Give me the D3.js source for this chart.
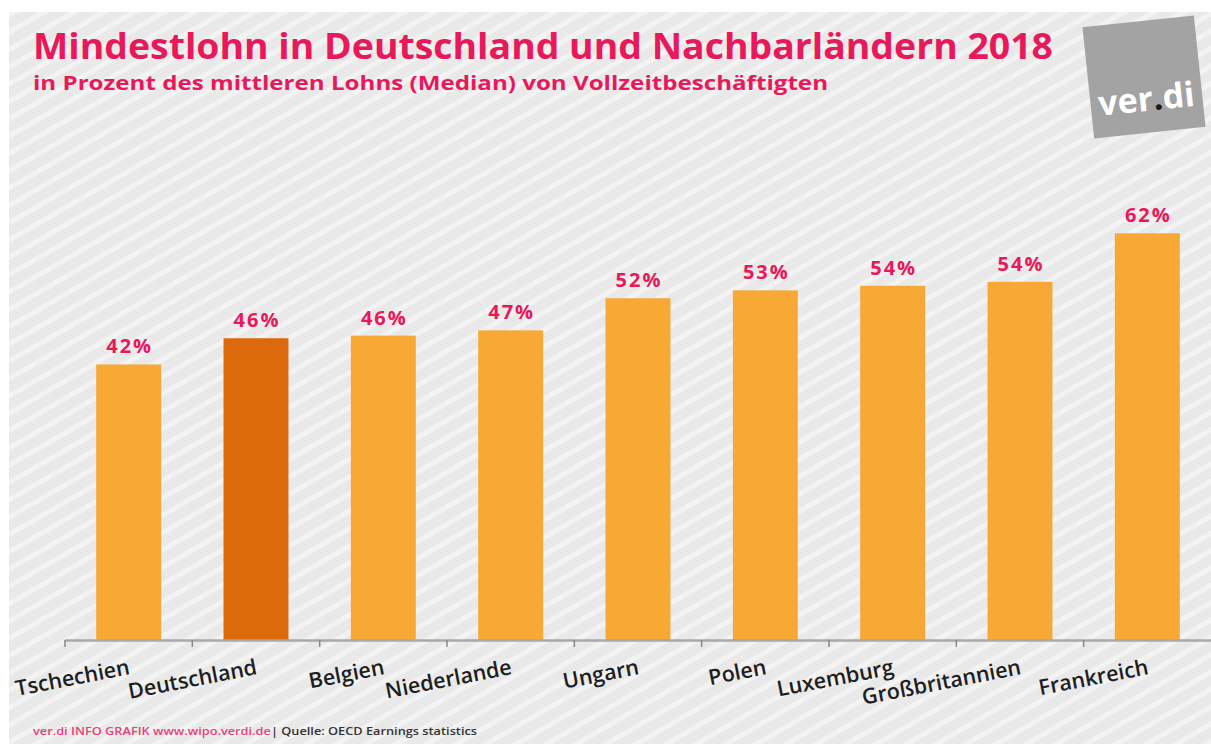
<!DOCTYPE html>
<html>
<head>
<meta charset="utf-8">
<script src="https://cdn.jsdelivr.net/npm/d3@7"></script>
<style>
	body { margin: 0; background: #fff; }
	svg { display: block; }
	.title, .subtitle, .value { font-family: 'Open Sans', sans-serif; font-weight: 700; fill: #e8195a; }
	.cat { font-family: 'Open Sans', sans-serif; font-weight: 600; fill: #1e1e1e; }
	.footer { font-family: 'Open Sans', sans-serif; font-weight: 600; }
</style>
</head>
<body>
<script>
var countries = ['Tschechien', 'Deutschland', 'Belgien', 'Niederlande', 'Ungarn', 'Polen', 'Luxemburg', 'Großbritannien', 'Frankreich'];
var shares = [42, 46, 46.4, 47.2, 52.1, 53.3, 54, 54.6, 62];
var shareLabels = ['42%', '46%', '46%', '47%', '52%', '53%', '54%', '54%', '62%'];
var highlight = 'Deutschland';

var width = 1211,
	height = 744,
	axisLeft = 65,
	baseline = 640,
	barColor = '#f8a834',
	highlightColor = '#dc690c';

var svg = d3.select('body').append('svg')
	.attr('width', width)
	.attr('height', height);

// striped grey background
var defs = svg.append('defs');
var pat = defs.append('pattern')
	.attr('id', 'stripes')
	.attr('patternUnits', 'userSpaceOnUse')
	.attr('width', 15).attr('height', 15)
	.attr('patternTransform', 'rotate(-30)');
pat.append('rect').attr('width', 15).attr('height', 15).attr('fill', '#e9e9e9');
pat.append('rect').attr('width', 15).attr('height', 5).attr('fill', '#f3f3f3');

svg.append('rect')
	.attr('x', 9).attr('y', 12)
	.attr('width', width - 9).attr('height', height - 12)
	.attr('fill', 'url(#stripes)');

// scales
var x = d3.scaleBand()
	.domain(countries)
	.range([axisLeft, width])
	.paddingInner(0.49)
	.paddingOuter(0.245);

var y = d3.scaleLinear()
	.domain([0, 70])
	.range([baseline, baseline - 6.56 * 70]);

// bars
svg.selectAll('.bar').data(countries).enter().append('rect')
	.attr('class', 'bar')
	.attr('x', function (d) { return x(d); })
	.attr('y', function (d, i) { return y(shares[i]); })
	.attr('width', x.bandwidth())
	.attr('height', function (d, i) { return baseline - y(shares[i]); })
	.attr('fill', function (d) { return d === highlight ? highlightColor : barColor; });

// value labels
svg.selectAll('.value').data(countries).enter().append('text')
	.attr('class', 'value')
	.attr('x', function (d) { return x(d) + x.bandwidth() / 2 + 1; })
	.attr('y', function (d, i) { return y(shares[i]) - 11; })
	.attr('text-anchor', 'middle')
	.attr('font-size', 20)
	.style('letter-spacing', '2px')
	.text(function (d, i) { return shareLabels[i]; });

// x axis: line plus ticks on band boundaries
var axisEl = svg.append('g').attr('class', 'axis');
axisEl.append('line')
	.attr('x1', axisLeft).attr('x2', width)
	.attr('y1', baseline + 0.5).attr('y2', baseline + 0.5)
	.attr('stroke', '#a8a8a8').attr('stroke-width', 2.5);
axisEl.selectAll('.tick').data(d3.range(countries.length)).enter().append('line')
	.attr('class', 'tick')
	.attr('x1', function (i) { return axisLeft + i * x.step(); })
	.attr('x2', function (i) { return axisLeft + i * x.step(); })
	.attr('y1', baseline).attr('y2', baseline + 7)
	.attr('stroke', '#888').attr('stroke-width', 1.5);

// rotated category labels, end anchored at bar centre
svg.selectAll('.cat').data(countries).enter().append('text')
	.attr('class', 'cat')
	.attr('font-size', 21.5)
	.attr('text-anchor', 'end')
	.attr('transform', function (d) {
		return 'translate(' + (x(d) + x.bandwidth() / 2 + 2) + ',674) rotate(-11)';
	})
	.text(function (d) { return d; });

// stretch text to a target width
function fitWidth(sel, target) {
	sel.attr('textLength', target).attr('lengthAdjust', 'spacingAndGlyphs');
}

var title = svg.append('text')
	.attr('class', 'title')
	.attr('x', 33).attr('y', 59)
	.attr('font-size', 35)
	.text('Mindestlohn in Deutschland und Nachbarländern 2018');
fitWidth(title, 1020);

var subtitle = svg.append('text')
	.attr('class', 'subtitle')
	.attr('x', 33).attr('y', 90)
	.attr('font-size', 19.5)
	.text('in Prozent des mittleren Lohns (Median) von Vollzeitbeschäftigten');
fitWidth(subtitle, 795);

// footer
var footer = svg.append('text')
	.attr('class', 'footer')
	.attr('x', 33).attr('y', 735)
	.attr('font-size', 11);
footer.append('tspan').attr('fill', '#e8407a').text('ver.di INFO GRAFIK www.wipo.verdi.de');
footer.append('tspan').attr('fill', '#333').text('| Quelle: OECD Earnings statistics');
fitWidth(footer, 444);

// ver.di logo
var logo = svg.append('g')
	.attr('transform', 'translate(1144,77) rotate(-6)');
logo.append('rect')
	.attr('x', -56).attr('y', -56)
	.attr('width', 112).attr('height', 112)
	.attr('fill', '#a3a3a3');
var logoText = logo.append('text')
	.attr('x', 0).attr('y', 34)
	.attr('text-anchor', 'middle')
	.attr('font-family', "'Open Sans', sans-serif")
	.attr('font-weight', 700)
	.attr('font-size', 34)
	.attr('fill', '#fff');
logoText.append('tspan').text('ver');
logoText.append('tspan').attr('fill', '#1a1a1a').text('.');
logoText.append('tspan').text('di');
</script>
</body>
</html>
